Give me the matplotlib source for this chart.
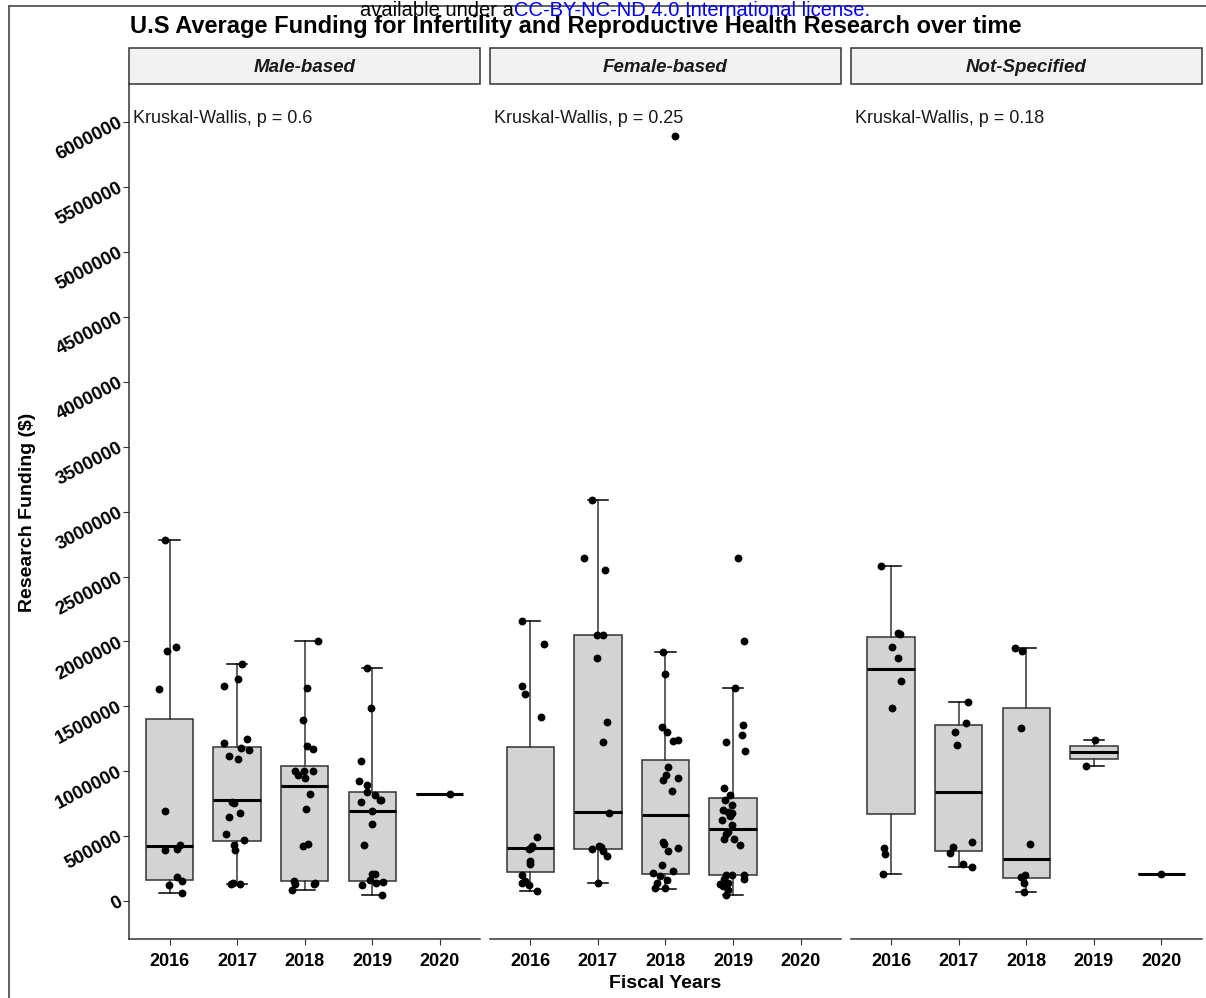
import numpy as np
import matplotlib.pyplot as plt
from matplotlib.lines import Line2D
from matplotlib.patches import Rectangle

plt.rcParams['font.family'] = ['Liberation Sans', 'DejaVu Sans']

years = ['2016', '2017', '2018', '2019', '2020']
groups = ['Male-based', 'Female-based', 'Not-Specified']
kw_labels = ['Kruskal-Wallis, p = 0.6', 'Kruskal-Wallis, p = 0.25', 'Kruskal-Wallis, p = 0.18']

# funding values in millions of $, one list per fiscal year
male_vals = [
    [2.783, 1.929, 1.960, 1.633, 0.692, 0.396, 0.399, 0.435, 0.185, 0.154, 0.121, 0.062],
    [1.823, 1.711, 1.654, 1.250, 1.214, 1.181, 1.163, 1.117, 1.096, 0.764, 0.756, 0.681,
     0.646, 0.519, 0.473, 0.435, 0.391, 0.129, 0.129, 0.139],
    [2.006, 1.644, 1.391, 1.193, 1.170, 1.003, 1.001, 1.001, 0.970, 0.951, 0.828, 0.712,
     0.442, 0.424, 0.154, 0.134, 0.134, 0.139, 0.087],
    [1.798, 1.489, 1.078, 0.924, 0.895, 0.836, 0.815, 0.782, 0.777, 0.762, 0.692, 0.597,
     0.435, 0.211, 0.211, 0.160, 0.141, 0.147, 0.121, 0.044],
    [0.828],
]
male_jit = [
    [-0.06, -0.04, 0.09, -0.15, -0.07, -0.06, 0.11, 0.16, 0.11, 0.18, -0.01, 0.18],
    [0.07, 0.01, -0.19, 0.14, -0.19, 0.06, 0.18, -0.12, 0.01, -0.07, -0.04, 0.05,
     -0.12, -0.17, 0.10, -0.04, -0.03, -0.09, 0.05, -0.06],
    [0.20, 0.04, -0.02, 0.04, 0.13, -0.14, -0.01, 0.13, -0.10, 0.01, 0.08, 0.02,
     0.05, -0.02, -0.16, -0.14, 0.14, 0.16, -0.18],
    [-0.07, -0.02, -0.17, -0.20, -0.07, -0.07, 0.04, 0.11, 0.13, -0.17, 0.0, 0.0,
     -0.12, -0.01, 0.04, -0.04, 0.06, 0.16, -0.15, 0.15],
    [0.15],
]
# q1, median, q3, lower whisker, upper whisker
male_box = [
    (0.164, 0.422, 1.402, 0.062, 2.783),
    (0.461, 0.777, 1.188, 0.129, 1.823),
    (0.152, 0.887, 1.044, 0.087, 2.006),
    (0.152, 0.697, 0.836, 0.044, 1.798),
    (0.828, 0.828, 0.828, 0.828, 0.828),
]

female_vals = [
    [2.160, 1.978, 1.654, 1.595, 1.420, 0.491, 0.422, 0.404, 0.409, 0.306, 0.283, 0.198,
     0.139, 0.154, 0.121, 0.077],
    [3.092, 2.647, 2.551, 2.052, 2.052, 1.873, 1.381, 1.229, 0.681, 0.404, 0.422, 0.417,
     0.386, 0.345, 0.141],
    [5.895, 1.919, 1.746, 1.343, 1.299, 1.232, 1.240, 1.034, 0.970, 0.936, 0.951, 0.846,
     0.455, 0.437, 0.386, 0.411, 0.280, 0.216, 0.193, 0.231, 0.139, 0.164, 0.100, 0.100],
    [2.647, 2.006, 1.641, 1.356, 1.276, 1.229, 1.152, 0.874, 0.815, 0.777, 0.743, 0.700,
     0.687, 0.681, 0.654, 0.623, 0.589, 0.519, 0.532, 0.481, 0.481, 0.435, 0.203, 0.203,
     0.203, 0.172, 0.172, 0.134, 0.139, 0.113, 0.083, 0.044],
    [],
]
female_jit = [
    [-0.13, 0.20, -0.13, -0.08, 0.16, 0.10, 0.03, -0.02, 0.01, 0.0, -0.01, -0.12,
     -0.13, -0.08, -0.02, 0.10],
    [-0.09, -0.20, 0.11, -0.02, 0.08, -0.02, 0.13, 0.07, 0.17, -0.09, 0.02, 0.05,
     0.08, 0.14, 0.0],
    [0.14, -0.03, 0.0, -0.05, 0.02, 0.11, 0.18, 0.04, 0.01, -0.03, 0.19, 0.09,
     -0.03, -0.02, 0.04, 0.19, -0.05, -0.18, -0.08, 0.11, -0.13, 0.02, -0.16, 0.0],
    [0.07, 0.17, 0.03, 0.15, 0.14, -0.11, 0.18, -0.14, -0.04, -0.12, -0.01, -0.15,
     -0.08, -0.01, -0.04, -0.16, -0.01, -0.11, -0.08, -0.14, 0.02, 0.11, -0.11, -0.01,
     0.17, 0.17, -0.14, -0.19, -0.08, -0.15, -0.08, -0.11],
    [],
]
female_box = [
    (0.224, 0.409, 1.188, 0.077, 2.160),
    (0.404, 0.687, 2.052, 0.141, 3.092),
    (0.211, 0.661, 1.086, 0.090, 1.919),
    (0.203, 0.558, 0.795, 0.044, 1.641),
    None,
]

ns_vals = [
    [2.583, 2.068, 2.055, 1.957, 1.873, 1.698, 1.489, 0.409, 0.365, 0.211],
    [1.535, 1.373, 1.304, 1.201, 0.453, 0.417, 0.373, 0.288, 0.262],
    [1.947, 1.929, 1.335, 0.442, 0.185, 0.203, 0.139, 0.067],
    [1.237, 1.044],
    [0.206],
]
ns_jit = [
    [-0.15, 0.10, 0.13, 0.02, 0.10, 0.15, 0.02, -0.11, -0.09, -0.12],
    [0.14, 0.11, -0.05, -0.02, 0.19, -0.09, -0.13, 0.07, 0.19],
    [-0.16, -0.07, -0.08, 0.06, -0.08, -0.02, -0.03, -0.03],
    [0.01, -0.12],
    [0.0],
]
ns_box = [
    (0.674, 1.790, 2.032, 0.211, 2.583),
    (0.386, 0.836, 1.353, 0.262, 1.535),
    (0.177, 0.322, 1.489, 0.067, 1.947),
    (1.096, 1.147, 1.191, 1.044, 1.237),
    (0.206, 0.206, 0.206, 0.206, 0.206),
]

all_vals = [male_vals, female_vals, ns_vals]
all_jit = [male_jit, female_jit, ns_jit]
all_box = [male_box, female_box, ns_box]

W, H = 1206, 998
fig = plt.figure(figsize=(W / 100, H / 100), dpi=100)

def rect(x0, y0, x1, y1):
    return [x0 / W, 1 - y1 / H, (x1 - x0) / W, (y1 - y0) / H]

panels = [(129, 480.3), (489.8, 841.1), (850.6, 1202)]
dark = '#333333'

for k, (x0, x1) in enumerate(panels):
    ax = fig.add_axes(rect(x0, 84, x1, 939))
    stats, pos = [], []
    for i, b in enumerate(all_box[k]):
        if b is None:
            continue
        q1, med, q3, lo, hi = [v * 1e6 for v in b]
        stats.append(dict(q1=q1, med=med, q3=q3, whislo=lo, whishi=hi, fliers=[]))
        pos.append(i + 1)
    ax.bxp(stats, positions=pos, widths=0.7, capwidths=0.3, patch_artist=True,
           showfliers=False,
           boxprops=dict(facecolor='#D3D3D3', edgecolor=dark, linewidth=1.1),
           medianprops=dict(color='black', linewidth=2.2),
           whiskerprops=dict(color=dark, linewidth=1.1),
           capprops=dict(color='black', linewidth=1.1))
    for i, (vals, jit) in enumerate(zip(all_vals[k], all_jit[k])):
        if not vals:
            continue
        xs = i + 1 + np.array(jit)
        ax.scatter(xs, np.array(vals) * 1e6, s=32, color='black', zorder=4,
                   linewidths=0)

    ax.set_xlim(0.4, 5.6)
    ax.set_ylim(-0.293e6, 6.296e6)
    ax.set_xticks(range(1, 6))
    ax.set_xticklabels(years, fontsize=13, fontweight='bold')
    ax.tick_params(axis='x', length=4, color=dark, pad=6)
    for s in ['top', 'right']:
        ax.spines[s].set_visible(False)
    ax.spines['bottom'].set_color(dark)
    ax.spines['bottom'].set_linewidth(1.1)
    ticks = np.arange(0, 6000001, 500000)
    ax.set_yticks(ticks)
    if k == 0:
        ax.spines['left'].set_color(dark)
        ax.spines['left'].set_linewidth(1.1)
        ax.set_yticklabels([str(int(t)) for t in ticks], fontsize=13.5, fontweight='bold',
                           rotation=28, ha='right', va='center', rotation_mode='anchor')
        ax.tick_params(axis='y', length=4, color=dark, pad=1.5)
    else:
        ax.spines['left'].set_visible(False)
        ax.tick_params(axis='y', left=False, labelleft=False)

    ax.text(0.46, 6.03e6, kw_labels[k], fontsize=13, ha='left', va='center',
            color='#1a1a1a')

    # facet strip
    fig.add_artist(Rectangle((x0 / W, 1 - 84 / H), (x1 - x0) / W, 36 / H,
                             transform=fig.transFigure, facecolor='#F2F2F2',
                             edgecolor=dark, linewidth=1.1))
    fig.text((x0 + x1) / 2 / W, 1 - 67 / H, groups[k], fontsize=13.5,
             fontweight='bold', fontstyle='italic', ha='center', va='center',
             color='#1a1a1a')

fig.text(665 / W, 1 - 983 / H, 'Fiscal Years', fontsize=14, fontweight='bold',
         ha='center', va='center')
fig.text(28 / W, 1 - 512 / H, 'Research Funding ($)', fontsize=14, fontweight='bold',
         rotation=90, ha='center', va='center')
fig.text(130 / W, 1 - 26 / H,
         'U.S Average Funding for Infertility and Reproductive Health Research over time',
         fontsize=17, fontweight='bold', ha='left', va='center')

# page header and frame
fig.text(514 / W, 1 - 11 / H, 'available under a', fontsize=14.5, ha='right', va='center')
fig.text(514 / W, 1 - 11 / H, 'CC-BY-NC-ND 4.0 International license.', fontsize=14.5,
         ha='left', va='center', color='#0000FF')
fig.add_artist(Line2D([9 / W, 9 / W], [0, 1 - 6 / H], transform=fig.transFigure,
                      color='#555555', linewidth=1.3))
fig.add_artist(Line2D([9 / W, 1], [1 - 6 / H, 1 - 6 / H], transform=fig.transFigure,
                      color='#555555', linewidth=1.3))

fig.savefig('out.png', dpi=100)
